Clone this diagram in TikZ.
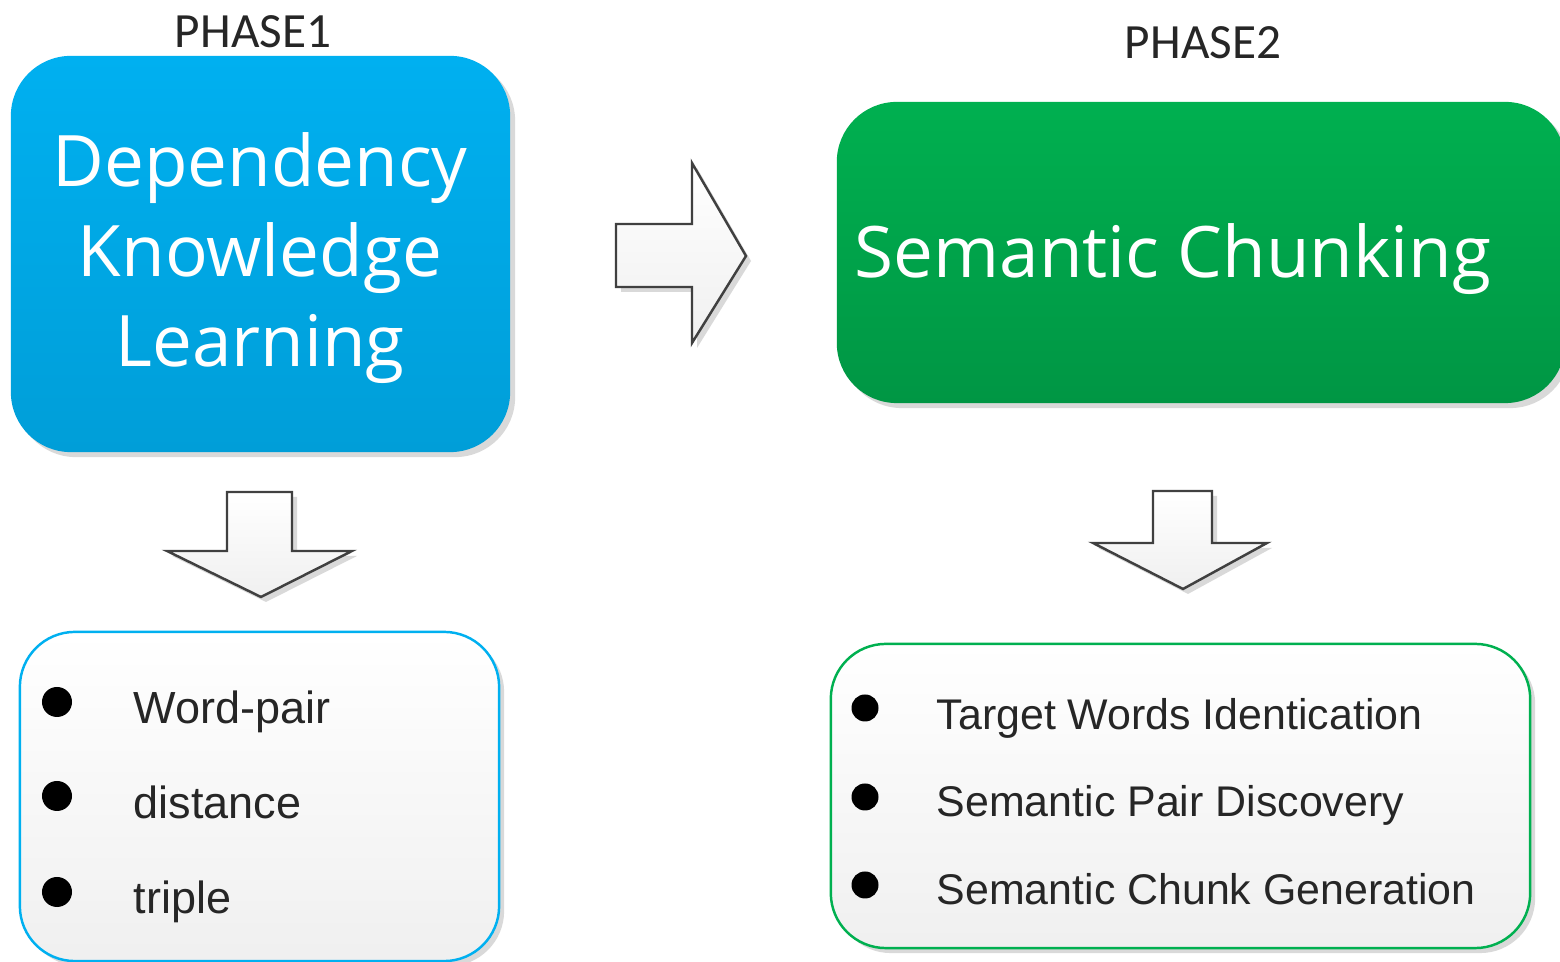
\documentclass[tikz,border=0pt]{standalone}
\usepackage{fontspec}
\setmainfont{Liberation Sans}
\newfontfamily\bigfont{Open Sans}
\newfontfamily\phasefont{Carlito}
\usetikzlibrary{shapes,arrows,positioning,shadows}
\definecolor{skyblue}{RGB}{0,176,240}
\definecolor{skybluedark}{RGB}{0,158,216}
\definecolor{leafgreen}{RGB}{0,176,80}
\definecolor{leafgreendark}{RGB}{0,150,68}
\definecolor{arrowgray}{RGB}{64,64,64}
\tikzstyle{softshadow} = [drop shadow={shadow xshift=0.05cm, shadow yshift=-0.05cm, opacity=0.15, fill=black}]
\tikzstyle{phasebox} = [rectangle, rounded corners=0.6cm, softshadow]
\tikzstyle{bluephase} = [phasebox, top color=skyblue, bottom color=skybluedark]
\tikzstyle{greenphase} = [phasebox, top color=leafgreen, bottom color=leafgreendark]
\tikzstyle{listbox} = [rectangle, rounded corners=0.55cm, line width=0.7pt, top color=white, bottom color=gray!12, softshadow]
\tikzstyle{bigtext} = [text=white, inner sep=0pt, font=\bigfont\fontsize{20.2}{25.6}\selectfont, align=center]
\tikzstyle{phaselabel} = [anchor=base, inner sep=0pt, font=\phasefont\fontsize{14}{16}\selectfont, text=black!85]
\tikzstyle{itemleft} = [anchor=base west, inner sep=0pt, text=black!85, font=\fontsize{12.8}{15}\selectfont]
\tikzstyle{itemright} = [anchor=base west, inner sep=0pt, text=black!85, font=\fontsize{12.2}{14}\selectfont]
\tikzstyle{bullet} = [circle, fill=black, inner sep=0pt]
\tikzstyle{blockarrow} = [draw=arrowgray, line width=0.7pt, line join=miter, top color=white, bottom color=gray!12, softshadow]

\begin{document}
\begin{tikzpicture}[x=0.01cm,y=-0.01cm]
	\fill[white] (0,0) rectangle (1560,962);
	\useasboundingbox (0,0) rectangle (1560,962);

	% phase 1
	\node[bluephase, minimum width=4.99cm, minimum height=3.96cm] (dkl) at (260.5,254) {};
	\node[bigtext] (dkltext) at (260,258) {Dependency\\Knowledge\\Learning};
	\node[phaselabel] (phase1) at (253,48) {PHASE1};

	% phase 2
	\node[greenphase, minimum width=7.28cm, minimum height=3.01cm] (sc) at (1201,252.5) {};
	\node[bigtext, anchor=base] (sctext) at (1173,278) {Semantic Chunking};
	\node[phaselabel] (phase2) at (1203,59) {PHASE2};

	% block arrows
	\draw[blockarrow] (616,224) -- (692,224) -- (692,163) -- (746,256) -- (692,343) -- (692,287) -- (616,287) -- cycle;
	\draw[blockarrow] (227,492) -- (292,492) -- (292,551) -- (352,551) -- (261,597) -- (167,551) -- (227,551) -- cycle;
	\draw[blockarrow] (1153,491) -- (1212,491) -- (1212,543) -- (1267,543) -- (1183,589) -- (1093,543) -- (1153,543) -- cycle;

	% lists
	\node[listbox, draw=skyblue, minimum width=4.79cm, minimum height=3.29cm] (dkllist) at (259.5,796.5) {};
	\node[bullet, minimum size=0.3cm] (b11) at (57,702) {};
	\node[bullet, minimum size=0.3cm] (b12) at (57,796) {};
	\node[bullet, minimum size=0.3cm] (b13) at (57,892) {};
	\node[itemleft] (i11) at (133,724) {Word-pair};
	\node[itemleft] (i12) at (133,819) {distance};
	\node[itemleft] (i13) at (133,914) {triple};

	\node[listbox, draw=leafgreen, minimum width=6.99cm, minimum height=3.04cm] (sclist) at (1180.5,796) {};
	\node[bullet, minimum size=0.27cm] (b21) at (865,708) {};
	\node[bullet, minimum size=0.27cm] (b22) at (865,797) {};
	\node[bullet, minimum size=0.27cm] (b23) at (865,885) {};
	\node[itemright] (i21) at (936,730) {Target Words Identication};
	\node[itemright] (i22) at (936,817) {Semantic Pair Discovery};
	\node[itemright] (i23) at (936,905) {Semantic Chunk Generation};
\end{tikzpicture}
\end{document}
